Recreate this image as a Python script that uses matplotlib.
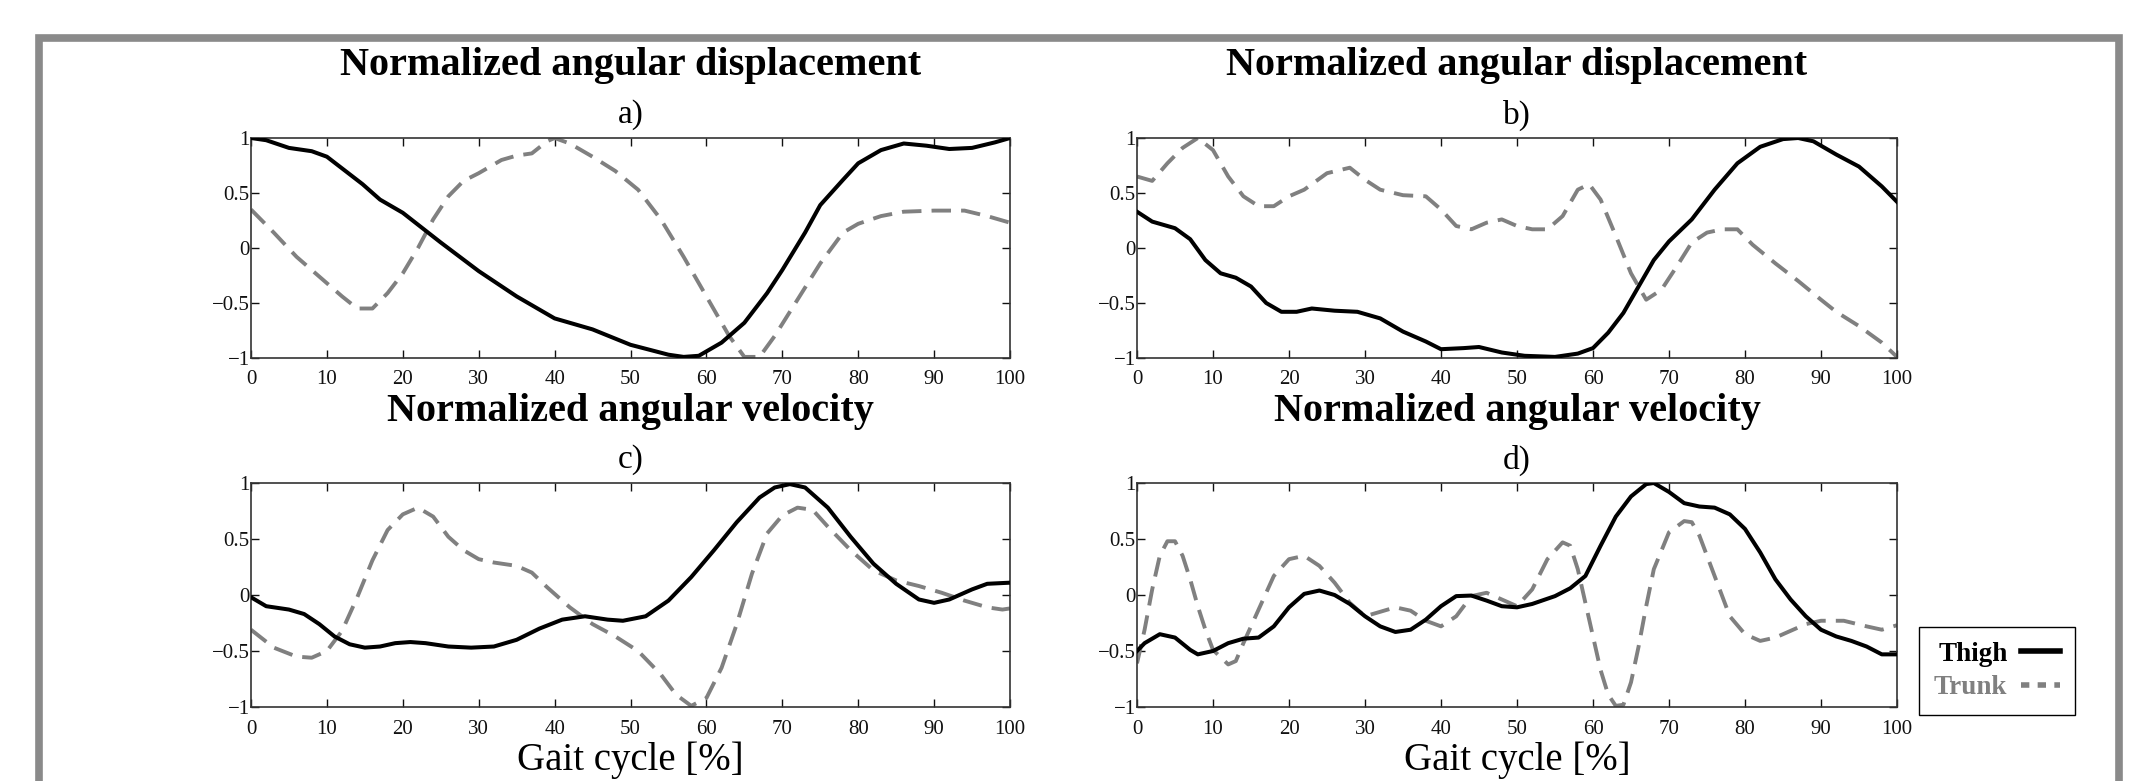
import numpy as np
import matplotlib.pyplot as plt
from matplotlib.patches import Rectangle
from matplotlib.lines import Line2D

plt.rcParams['font.family'] = ['Liberation Serif', 'DejaVu Serif']

# a) angular displacement, first subject
xa_thigh = [0, 2, 5, 8, 10, 14.7, 17, 20, 25, 30, 35, 40, 43, 45, 50, 55, 57, 59, 62, 65, 68, 70,
            73, 75, 78, 80, 83, 86, 89, 92, 95, 98, 100]
ya_thigh = [1.0, 0.98, 0.91, 0.88, 0.83, 0.58, 0.44, 0.32, 0.05, -0.21, -0.44, -0.64, -0.70, -0.74,
            -0.88, -0.97, -0.99, -0.98, -0.86, -0.68, -0.41, -0.2, 0.14, 0.39, 0.62, 0.77, 0.89,
            0.95, 0.93, 0.90, 0.91, 0.96, 1.0]
xa_trunk = [0, 3, 6, 9, 12, 14, 16, 18, 20, 22, 24, 26, 28, 30, 33, 35, 37, 39, 40, 42, 45, 48, 51,
            54, 57, 60, 63, 65, 67, 69, 72, 75, 78, 80, 83, 86, 90, 94, 97, 100]
ya_trunk = [0.35, 0.14, -0.08, -0.26, -0.44, -0.55, -0.55, -0.41, -0.23, 0.0, 0.26, 0.47, 0.61,
            0.68, 0.80, 0.84, 0.86, 0.97, 1.0, 0.95, 0.83, 0.70, 0.53, 0.26, -0.08, -0.44, -0.80,
            -0.99, -0.99, -0.80, -0.47, -0.14, 0.14, 0.22, 0.29, 0.33, 0.34, 0.34, 0.29, 0.23]

# b) angular displacement, second subject
xb_thigh = [0, 2, 5, 7, 9, 11, 13, 15, 17, 19, 21, 23, 26, 29, 32, 35, 38, 40, 43, 45, 48, 51, 55,
            58, 60, 62, 64, 66, 68, 70, 73, 76, 79, 82, 85, 87, 89, 92, 95, 98, 100]
yb_thigh = [0.33, 0.24, 0.18, 0.08, -0.11, -0.23, -0.27, -0.35, -0.50, -0.58, -0.58, -0.55, -0.57,
            -0.58, -0.64, -0.76, -0.85, -0.92, -0.91, -0.90, -0.95, -0.98, -0.99, -0.96, -0.91,
            -0.77, -0.59, -0.35, -0.11, 0.06, 0.26, 0.53, 0.77, 0.92, 0.99, 1.0, 0.97, 0.85,
            0.74, 0.56, 0.42]
xb_trunk = [0, 2, 4, 6, 8, 10, 12, 14, 16, 18, 20, 22, 25, 28, 30, 32, 35, 38, 40, 42, 44, 46, 48,
            50, 52, 54, 56, 58, 59.5, 61, 63, 65, 67, 69, 71, 73, 75, 77, 79, 81, 84, 87, 90, 92,
            95, 98, 100]
yb_trunk = [0.65, 0.61, 0.77, 0.91, 1.0, 0.89, 0.65, 0.47, 0.38, 0.38, 0.47, 0.53, 0.68, 0.73,
            0.62, 0.53, 0.48, 0.47, 0.35, 0.20, 0.17, 0.23, 0.26, 0.20, 0.17, 0.17, 0.29, 0.53,
            0.58, 0.44, 0.11, -0.23, -0.47, -0.38, -0.17, 0.05, 0.14, 0.17, 0.17, 0.03, -0.14,
            -0.30, -0.47, -0.58, -0.71, -0.86, -0.99]

# c) angular velocity, first subject
xc_thigh = [0, 2, 5, 7, 9, 11, 13, 15, 17, 19, 21, 23, 26, 29, 32, 35, 38, 41, 44, 47, 49, 52, 55,
            58, 61, 64, 67, 69, 71, 73, 76, 79, 82, 85, 88, 90, 92, 95, 97, 100]
yc_thigh = [-0.02, -0.10, -0.13, -0.17, -0.26, -0.37, -0.44, -0.47, -0.46, -0.43, -0.42, -0.43,
            -0.46, -0.47, -0.46, -0.40, -0.30, -0.22, -0.19, -0.22, -0.23, -0.19, -0.05, 0.16,
            0.40, 0.65, 0.87, 0.96, 0.99, 0.96, 0.78, 0.52, 0.28, 0.10, -0.04, -0.07, -0.04,
            0.05, 0.10, 0.11]
xc_trunk = [0, 3, 6, 8, 10, 12, 14, 16, 18, 20, 22, 24, 26, 28, 30, 32, 35, 37, 39, 42, 45, 48, 51,
            54, 56, 58, 60, 62, 64, 66, 68, 70, 72, 74, 76, 79, 82, 85, 88, 91, 94, 97, 99, 100]
yc_trunk = [-0.31, -0.47, -0.55, -0.56, -0.50, -0.32, -0.02, 0.31, 0.58, 0.72, 0.78, 0.70, 0.52,
            0.40, 0.32, 0.29, 0.26, 0.20, 0.07, -0.11, -0.26, -0.37, -0.50, -0.71, -0.89, -0.99,
            -0.92, -0.65, -0.26, 0.19, 0.55, 0.71, 0.78, 0.76, 0.61, 0.40, 0.22, 0.13, 0.08,
            0.02, -0.05, -0.11, -0.13, -0.12]

# d) angular velocity, second subject
xd_thigh = [0, 1, 3, 5, 7, 8, 10, 12, 14, 16, 18, 20, 22, 24, 26, 28, 30, 32, 34, 36, 38, 40, 42,
            44, 46, 48, 50, 52, 55, 57, 59, 61, 63, 65, 67, 68, 70, 72, 74, 76, 78, 80, 82, 84,
            86, 88, 90, 92, 94, 96, 98, 100]
yd_thigh = [-0.50, -0.43, -0.35, -0.38, -0.49, -0.53, -0.50, -0.43, -0.39, -0.38, -0.28, -0.11,
            0.01, 0.04, 0.0, -0.08, -0.19, -0.28, -0.33, -0.31, -0.22, -0.10, -0.01, -0.005,
            -0.05, -0.10, -0.11, -0.08, -0.01, 0.06, 0.17, 0.44, 0.70, 0.88, 0.99, 1.0, 0.92,
            0.82, 0.79, 0.78, 0.72, 0.59, 0.38, 0.14, -0.04, -0.19, -0.31, -0.37, -0.41, -0.46,
            -0.53, -0.53]
xd_trunk = [0, 1, 2, 3, 4, 5, 6, 7, 8, 9, 10, 12, 13, 14, 16, 18, 20, 22, 24, 26, 28, 30, 32, 34,
            36, 38, 40, 42, 44, 46, 48, 50, 52, 54, 56, 57, 58, 59, 60, 61, 62, 63, 64, 65, 66,
            67, 68, 70, 72, 73, 74, 76, 78, 80, 82, 84, 86, 88, 90, 93, 96, 98, 100]
yd_trunk = [-0.61, -0.31, 0.05, 0.35, 0.48, 0.48, 0.35, 0.14, -0.10, -0.31, -0.49, -0.62, -0.59,
            -0.43, -0.13, 0.17, 0.32, 0.35, 0.26, 0.11, -0.07, -0.19, -0.15, -0.11, -0.14, -0.23,
            -0.28, -0.19, -0.01, 0.02, -0.04, -0.10, 0.05, 0.32, 0.47, 0.44, 0.23, -0.07, -0.37,
            -0.67, -0.89, -0.99, -0.98, -0.78, -0.46, -0.10, 0.23, 0.56, 0.66, 0.65, 0.53, 0.17,
            -0.19, -0.35, -0.41, -0.38, -0.32, -0.26, -0.23, -0.23, -0.28, -0.31, -0.27]

titles = ['Normalized angular displacement', 'Normalized angular displacement',
          'Normalized angular velocity', 'Normalized angular velocity']
letters = ['a)', 'b)', 'c)', 'd)']
xticks = np.arange(0, 101, 10)
yticks = [-1, -0.5, 0, 0.5, 1]
ytick_labels = ['\u22121', '\u22120.5', '0', '0.5', '1']

W, H = 2144, 781
fig = plt.figure(figsize=(W / 100, H / 100), dpi=100)

# axes boxes in pixels: left, top, right, bottom
boxes = [(251, 138, 1010, 358), (1137, 138, 1897, 358),
         (251, 483, 1010, 707), (1137, 483, 1897, 707)]
data = [(xa_thigh, ya_thigh, xa_trunk, ya_trunk), (xb_thigh, yb_thigh, xb_trunk, yb_trunk),
        (xc_thigh, yc_thigh, xc_trunk, yc_trunk), (xd_thigh, yd_thigh, xd_trunk, yd_trunk)]
gray = '#808080'

for i, (l, t, r, b) in enumerate(boxes):
    ax = fig.add_axes([l / W, 1 - b / H, (r - l) / W, (b - t) / H])
    xt, yt, xk, yk = data[i]
    ax.plot(xk, yk, color=gray, lw=2.8, dashes=(5, 2.6), zorder=2)
    ax.plot(xt, yt, color='black', lw=2.9, zorder=3)
    ax.set_xlim(0, 100)
    ax.set_ylim(-1, 1)
    ax.set_xticks(xticks)
    ax.set_yticks(yticks)
    ax.set_yticklabels(ytick_labels)
    ax.tick_params(direction='in', length=6, width=1, top=True, right=True,
                   labelsize=15, colors='#111111')
    ax.tick_params(axis='x', pad=9)
    ax.tick_params(axis='y', pad=1)
    for sp in ax.spines.values():
        sp.set_linewidth(1.2)
        sp.set_color('#333333')
    cx = (l + r) / 2 / W
    title_off = 73 if i < 2 else 71
    fig.text(cx, 1 - (t - title_off) / H, titles[i], ha='center', va='center',
             fontsize=29, fontweight='bold')
    fig.text(cx, 1 - (t - 23) / H, letters[i], ha='center', va='center', fontsize=24)
    if i >= 2:
        fig.text(cx, 1 - 760 / H, 'Gait cycle [%]', ha='center', va='center', fontsize=28)

handles = [Line2D([], [], color='black', lw=4),
           Line2D([], [], color=gray, lw=4, dashes=(1.5, 1.5))]
leg = fig.legend(handles, ['Thigh', 'Trunk'], loc='upper left',
                 bbox_to_anchor=(1919 / W, 1 - 627 / H), borderaxespad=0, markerfirst=False,
                 fancybox=False, framealpha=1, edgecolor='black', handlelength=1.45,
                 handletextpad=0.5, borderpad=0.55, labelspacing=0.3,
                 prop={'size': 19.5, 'weight': 'bold'})
leg.get_frame().set_linewidth(1.0)
leg.get_texts()[1].set_color(gray)

# gray frame around the figure, open at the bottom
fig.patches.append(Rectangle((38.5 / W, -0.2), 2080 / W, 1.2 - 37.5 / H,
                             transform=fig.transFigure, fill=False,
                             edgecolor='#8a8a8a', lw=5.5, zorder=0))

fig.savefig('out.png', dpi=100)
